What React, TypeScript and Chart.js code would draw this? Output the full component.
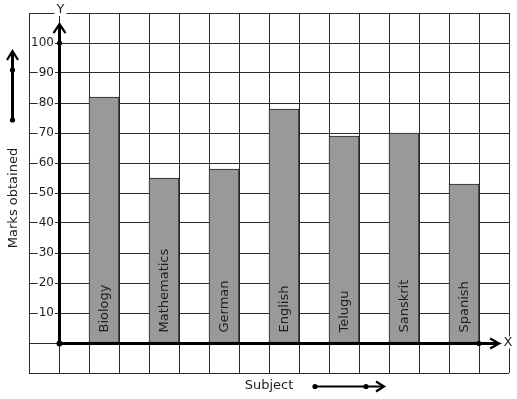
import React, { useEffect, useRef } from 'react';
import { Chart, registerables } from 'chart.js';

Chart.register(...registerables);

const subjects = ['Biology', 'Mathematics', 'German', 'English', 'Telugu', 'Sanskrit', 'Spanish'];
const marks = [82, 55, 58, 78, 69, 70, 53];
// grid column (x units) holding each bar
const slots = [1.5, 3.5, 5.5, 7.5, 9.5, 11.5, 13.5];
const yLabelMin = 10;
const yLabelMax = 100;
const xTitle = 'Subject';
const yTitle = 'Marks obtained';
const xAxisName = 'X';
const yAxisName = 'Y';

const FONT = "'DejaVu Sans', sans-serif";
const INK = '#1e1e1e';
const GRID = '#2a2a2a';

function seg(ctx: CanvasRenderingContext2D, pts: number[][]) {
  ctx.beginPath();
  ctx.moveTo(pts[0][0], pts[0][1]);
  for (let i = 1; i < pts.length; i++) ctx.lineTo(pts[i][0], pts[i][1]);
  ctx.stroke();
}
function dot(ctx: CanvasRenderingContext2D, x: number, y: number, r = 2.6) {
  ctx.beginPath();
  ctx.arc(x, y, r, 0, Math.PI * 2);
  ctx.fill();
}
function boxedText(ctx: CanvasRenderingContext2D, text: string, cx: number, cy: number) {
  ctx.font = `13px ${FONT}`;
  const w = ctx.measureText(text).width;
  ctx.fillStyle = '#fff';
  ctx.fillRect(cx - w / 2 - 2, cy - 6, w + 4, 12);
  ctx.fillStyle = INK;
  ctx.textAlign = 'center';
  ctx.textBaseline = 'middle';
  ctx.fillText(text, cx, cy);
}

const decor = {
  id: 'decor',
  afterDatasetsDraw(chart: any) {
    const { ctx } = chart;
    const meta = chart.getDatasetMeta(0);
    ctx.save();
    ctx.font = `13px ${FONT}`;
    ctx.fillStyle = INK;
    ctx.textAlign = 'left';
    ctx.textBaseline = 'alphabetic';
    meta.data.forEach((el: any, i: number) => {
      ctx.save();
      ctx.translate(el.x + 4, el.base - 10);
      ctx.rotate(-Math.PI / 2);
      ctx.fillText(subjects[i], 0, 0);
      ctx.restore();
    });
    ctx.restore();
  },
  afterDraw(chart: any) {
    const { ctx } = chart;
    const x = chart.scales.x;
    const y = chart.scales.y;
    const ox = Math.round(x.getPixelForValue(0)) + 0.5;
    const oy = Math.round(y.getPixelForValue(0)) + 0.5;
    const yTip = y.getPixelForValue(106.3);
    const xTip = x.getPixelForValue(14.67);
    ctx.save();
    ctx.strokeStyle = '#000';
    ctx.fillStyle = '#000';
    ctx.lineCap = 'butt';
    ctx.lineJoin = 'miter';
    ctx.lineWidth = 3;
    seg(ctx, [[ox, oy], [ox, yTip + 1]]);
    seg(ctx, [[ox, oy], [xTip - 1, oy]]);
    ctx.lineWidth = 2.2;
    seg(ctx, [[ox - 6, yTip + 9], [ox, yTip], [ox + 6, yTip + 9]]);
    seg(ctx, [[xTip - 9, oy - 5], [xTip, oy], [xTip - 9, oy + 5]]);
    dot(ctx, ox, oy, 3);
    dot(ctx, ox, y.getPixelForValue(100));
    dot(ctx, x.getPixelForValue(14), oy);

    // left vertical arrow
    ctx.lineWidth = 3;
    seg(ctx, [[12.5, 120], [12.5, 52]]);
    ctx.lineWidth = 2.2;
    seg(ctx, [[7, 60], [12.5, 51], [18, 60]]);
    dot(ctx, 12.5, 70);
    dot(ctx, 12.5, 120);

    // subject arrow
    ctx.lineWidth = 2.2;
    seg(ctx, [[315, 386.5], [383, 386.5]]);
    seg(ctx, [[376, 381.5], [384, 386.5], [376, 391.5]]);
    dot(ctx, 315, 386.5);
    dot(ctx, 366, 386.5);

    // axis names
    boxedText(ctx, yAxisName, ox + 1, 10);
    boxedText(ctx, xAxisName, 508, oy - 1);

    // y title
    ctx.save();
    ctx.font = `13px ${FONT}`;
    ctx.fillStyle = INK;
    ctx.textAlign = 'center';
    ctx.textBaseline = 'alphabetic';
    ctx.translate(17, 198);
    ctx.rotate(-Math.PI / 2);
    ctx.fillText(yTitle, 0, 0);
    ctx.restore();

    ctx.restore();
  },
};

export default function App() {
  const ref = useRef<HTMLCanvasElement | null>(null);
  useEffect(() => {
    if (!ref.current) return;
    Chart.defaults.font.family = FONT;
    const chart = new Chart(ref.current, {
      type: 'bar',
      data: {
        datasets: [
          {
            data: subjects.map((s, i) => ({ x: slots[i], y: marks[i] })),
            backgroundColor: '#999999',
            borderColor: '#222222',
            borderWidth: 1,
            borderSkipped: false,
            barPercentage: 1,
            categoryPercentage: 1,
          },
        ],
      },
      options: {
        animation: false,
        responsive: false,
        devicePixelRatio: 1,
        layout: { padding: { left: 29, right: 8, top: 13, bottom: 0 } },
        plugins: { legend: { display: false }, tooltip: { enabled: false } },
        scales: {
          x: {
            type: 'linear',
            position: 'bottom',
            min: -1,
            max: 15,
            offset: false,
            afterFit: (s: any) => {
              s.height = 26;
              s.paddingLeft = 0;
              s.paddingRight = 0;
              s.paddingTop = 0;
              s.paddingBottom = 0;
            },
            border: { display: false },
            grid: { color: GRID, lineWidth: 1, drawTicks: false, tickLength: 0, offset: false },
            ticks: { stepSize: 1, display: false },
            title: {
              display: true,
              text: xTitle,
              color: INK,
              font: { size: 13, family: FONT },
              padding: { top: 0, bottom: 6 },
            },
          },
          y: {
            type: 'linear',
            min: -10,
            max: 110,
            afterFit: (s: any) => {
              s.width = 0;
              s.paddingLeft = 0;
              s.paddingRight = 0;
              s.paddingTop = 0;
              s.paddingBottom = 0;
            },
            border: { display: false },
            grid: { color: GRID, lineWidth: 1, drawTicks: false, tickLength: 0 },
            ticks: {
              stepSize: 10,
              mirror: true,
              crossAlign: 'far',
              padding: 2,
              color: INK,
              font: { size: 12, family: FONT },
              callback: (v: any) => (v >= yLabelMin && v <= yLabelMax ? String(v) : ''),
              showLabelBackdrop: true,
              backdropColor: (c: any) =>
                c.tick && c.tick.value >= yLabelMin && c.tick.value <= yLabelMax ? '#ffffff' : 'rgba(0,0,0,0)',
              backdropPadding: { left: 1, right: 1, top: 0, bottom: 0 },
            },
          },
        },
      } as any,
      plugins: [decor],
    });
    return () => chart.destroy();
  }, []);
  return (
    <div style={{ position: 'fixed', left: 0, top: 0, width: 517, height: 399, background: '#fff' }}>
      <canvas ref={ref} width={517} height={399} style={{ display: 'block' }} />
    </div>
  );
}
